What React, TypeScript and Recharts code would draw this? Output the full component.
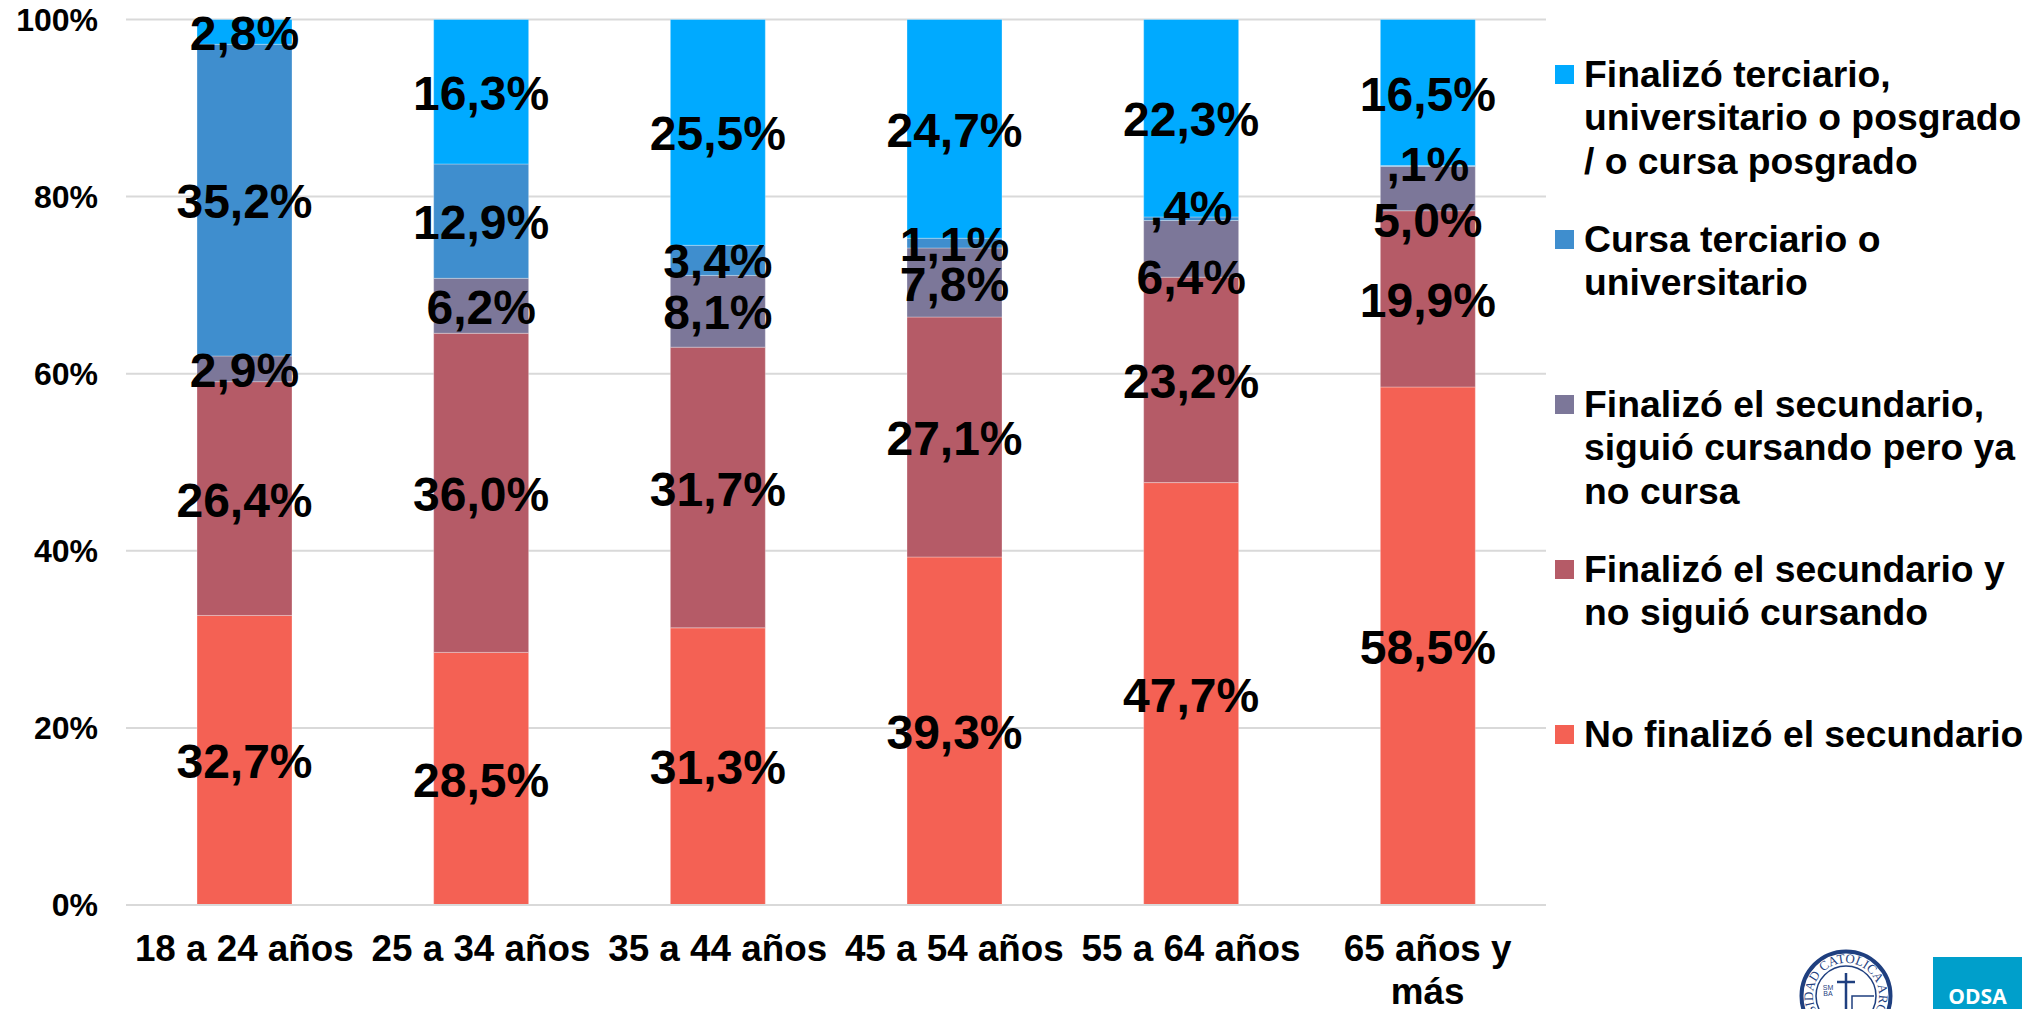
import React from 'react';
import { BarChart, Bar, XAxis, YAxis, CartesianGrid, LabelList, Legend, Text } from 'recharts';

const ageGroups = ['18 a 24 años', '25 a 34 años', '35 a 44 años', '45 a 54 años', '55 a 64 años', '65 años y más'];

const noFinalizo = [32.7, 28.5, 31.3, 39.3, 47.7, 58.5];
const finalizoNoSiguio = [26.4, 36.0, 31.7, 27.1, 23.2, 19.9];
const finalizoYaNoCursa = [2.9, 6.2, 8.1, 7.8, 6.4, 5.0];
const cursaTerciario = [35.2, 12.9, 3.4, 1.1, 0.4, 0.1];
const finalizoTerciario = [2.8, 16.3, 25.5, 24.7, 22.3, 16.5];

const seriesNames = [
  'No finalizó el secundario',
  'Finalizó el secundario y no siguió cursando',
  'Finalizó el secundario, siguió cursando pero ya no cursa',
  'Cursa terciario o universitario',
  'Finalizó terciario, universitario o posgrado / o cursa posgrado',
];
const seriesColors = ['#F46154', '#B55B67', '#7C7799', '#3F8ECE', '#00AAFF'];
const yTicks = [0, 0.2, 0.4, 0.6, 0.8, 1];

const data = ageGroups.map((age, i) => ({
  age,
  s0: noFinalizo[i],
  s1: finalizoNoSiguio[i],
  s2: finalizoYaNoCursa[i],
  s3: cursaTerciario[i],
  s4: finalizoTerciario[i],
}));

const FONT = '"Liberation Sans", Arial, sans-serif';

// a few labels were dragged by hand in the original, "series-column": px
const labelNudge: Record<string, number> = { '2-4': 27, '2-5': 30, '3-4': -12, '3-5': -3 };

// values under 1 have no leading zero in the original (",4%")
const formatLabel = (v: number) => v.toFixed(1).replace(/^0/, '').replace('.', ',') + '%';

const tickStyle = { fontFamily: FONT, fontWeight: 'bold', fontSize: '36.8px' };

const AgeTick = (props: any) => {
  const { x, y, payload } = props;
  return (
    <Text x={x} y={y + 2} width={232} textAnchor="middle" verticalAnchor="start" lineHeight={43} style={tickStyle} fill="#000">
      {payload.value}
    </Text>
  );
};

const SegmentLabel = (props: any) => {
  const { x, y, width, height, value, index, series } = props;
  const nudge = labelNudge[`${series}-${index}`] || 0;
  return (
    <Text
      x={x + width / 2}
      y={y + height / 2 + 1 + nudge}
      textAnchor="middle"
      verticalAnchor="middle"
      fontFamily={FONT}
      fontWeight="bold"
      fontSize={48}
      fill="#000"
    >
      {formatLabel(value)}
    </Text>
  );
};

const LegendBox = () => (
  <div style={{ fontFamily: FONT, fontWeight: 'bold', fontSize: 37.3, lineHeight: '43.3px', color: '#000' }}>
    {seriesNames.map((name, i) => seriesNames.length - 1 - i).map((i) => (
      <div key={i} style={{ height: 165, position: 'relative' }}>
        <div style={{ position: 'absolute', left: 0, top: 0, width: 19, height: 19, background: seriesColors[i] }} />
        <div style={{ position: 'absolute', left: 29, top: -12, width: 452 }}>{seriesNames[i]}</div>
      </div>
    ))}
  </div>
);

const Logos = () => (
  <svg width={2038} height={1009} style={{ position: 'absolute', left: 0, top: 0, pointerEvents: 'none' }}>
    <circle cx={1846} cy={996} r={44.5} fill="#fff" stroke="#1F3F7F" strokeWidth={4} />
    <circle cx={1846} cy={996} r={30} fill="#fff" stroke="#1F3F7F" strokeWidth={1.5} />
    <defs>
      <path id="sealArc" d="M 1815.7 1009 A 33 33 0 1 1 1876.3 1009" />
    </defs>
    <text fontFamily={'"Liberation Serif", serif'} fontSize={13} fill="#1F3F7F">
      <textPath href="#sealArc" startOffset="50%" textAnchor="middle">SIDAD CATOLICA ARG</textPath>
    </text>
    <line x1={1846} y1={973} x2={1846} y2={1009} stroke="#1F3F7F" strokeWidth={2.5} />
    <line x1={1837} y1={982} x2={1855} y2={982} stroke="#1F3F7F" strokeWidth={2.5} />
    <text x={1828} y={990} textAnchor="middle" fontFamily={FONT} fontSize={7} fill="#1F3F7F">SM</text>
    <text x={1828} y={996} textAnchor="middle" fontFamily={FONT} fontSize={7} fill="#1F3F7F">BA</text>
    <polyline points="1852,1009 1852,996 1874,996" fill="none" stroke="#1F3F7F" strokeWidth={1.5} />
    <rect x={1933} y={957} width={89} height={52} fill="#009FCB" />
    <text x={1977.5} y={1004} textAnchor="middle" fontFamily={'"Open Sans", sans-serif'} fontWeight="bold" fontSize={21} fill="#fff">ODSA</text>
  </svg>
);

export default function App() {
  return (
    <div style={{ position: 'absolute', left: 0, top: 0, width: 2038, height: 1009, overflow: 'hidden', background: '#fff' }}>
      <BarChart
        width={2038}
        height={1009}
        data={data}
        stackOffset="expand"
        barCategoryGap="30%"
        margin={{ top: 19.5, right: 9, bottom: 0, left: 0 }}
      >
        <CartesianGrid horizontal vertical={false} stroke="#D9D9D9" strokeWidth={2} />
        <XAxis
          dataKey="age"
          height={104}
          interval={0}
          axisLine={{ stroke: '#D9D9D9', strokeWidth: 2 }}
          tickLine={false}
          tickSize={0}
          tickMargin={28}
          tick={<AgeTick />}
        />
        <YAxis
          width={126}
          domain={[0, 1]}
          ticks={yTicks}
          axisLine={false}
          tickLine={false}
          tickSize={0}
          tickMargin={28}
          tickFormatter={(v: number) => `${Math.round(v * 100)}%`}
          tick={{ fontFamily: FONT, fontWeight: 'bold', fontSize: 32, fill: '#000' }}
        />
        <Legend
          layout="vertical"
          align="right"
          verticalAlign="top"
          width={483}
          content={<LegendBox />}
          wrapperStyle={{ left: 1555, top: 65, width: 483, bottom: 'auto', right: 'auto' }}
        />
        {seriesColors.map((color, i) => (
          <Bar
            key={i}
            dataKey={`s${i}`}
            stackId="a"
            name={seriesNames[i]}
            fill={color}
            stroke="#ffffff"
            strokeOpacity={0.3}
            isAnimationActive={false}
          >
            <LabelList dataKey={`s${i}`} content={<SegmentLabel series={i} />} />
          </Bar>
        ))}
      </BarChart>
      <Logos />
    </div>
  );
}
